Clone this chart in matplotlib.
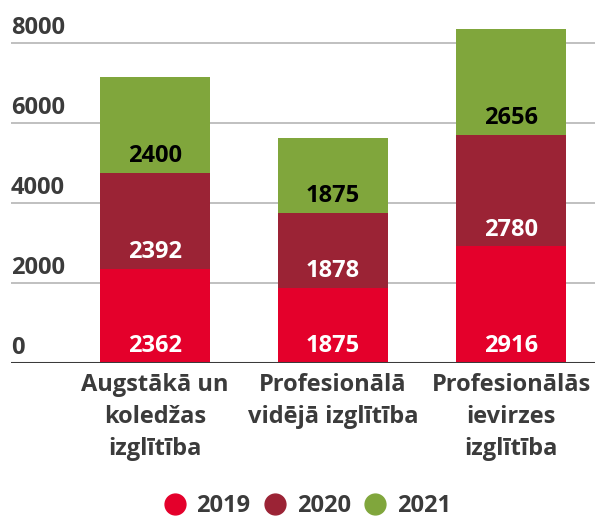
import matplotlib
matplotlib.use('Agg')
import matplotlib.pyplot as plt
import numpy as np

plt.rcParams['font.family'] = ['Open Sans', 'DejaVu Sans']
plt.rcParams['font.weight'] = 'bold'

categories = ['Augstākā un\nkoledžas\nizglītība', 'Profesionālā\nvidējā izglītība', 'Profesionālās\nievirzes\nizglītība']
years = ['2019', '2020', '2021']
v2019 = [2362, 1875, 2916]
v2020 = [2392, 1878, 2780]
v2021 = [2400, 1875, 2656]
yticks = [0, 2000, 4000, 6000, 8000]

colors = ['#e4002b', '#9b2335', '#80a63c']
label_colors = ['white', 'white', 'black']
txt = '#3b3b3b'
fs = 17

fig = plt.figure(figsize=(5.95, 5.2), dpi=100)
ax = fig.add_axes([11/595, (520-363)/520, 584/595, 336/520])

x = np.arange(len(categories))
bottom = np.zeros(len(categories))
for vals, col, lc, yr in zip([v2019, v2020, v2021], colors, label_colors, years):
    ax.bar(x, vals, width=0.618, bottom=bottom, color=col, label=yr, zorder=2)
    for xi, b, v in zip(x, bottom, vals):
        ax.annotate(str(v), (xi, b), xytext=(0, 12), textcoords='offset points',
                    ha='center', va='center', color=lc, fontsize=fs, fontweight='bold')
    bottom = bottom + np.array(vals)

ax.set_xlim(-144/178, 2 + 84/178)
ax.set_ylim(0, 8400)

for t in yticks:
    if t > 0:
        ax.axhline(t, color='#b5b5b5', lw=1.2, zorder=1)
    ax.annotate(str(t), (0, t), xycoords=('axes fraction', 'data'), xytext=(0, 2),
                textcoords='offset points', ha='left', va='bottom', color=txt,
                fontsize=fs, fontweight='bold')
ax.axhline(0, color='#3b3b3b', lw=2.2, zorder=3)

for s in ax.spines.values():
    s.set_visible(False)
ax.set_yticks([])
ax.set_xticks(x)
ax.set_xticklabels(categories, fontsize=fs, fontweight='bold', color=txt, linespacing=1.45)
ax.tick_params(axis='x', length=0, pad=7)

handles = [plt.Line2D([], [], marker='o', ls='', color=c, markersize=15) for c in colors]
fig.legend(handles, years, loc='center', bbox_to_anchor=(0.516, 1 - 506/520), ncol=3,
           frameon=False, handlelength=1.0, handletextpad=0.4, columnspacing=0.55,
           labelcolor=txt, prop={'weight': 'bold', 'size': fs})

fig.savefig('out.png', dpi=100)
